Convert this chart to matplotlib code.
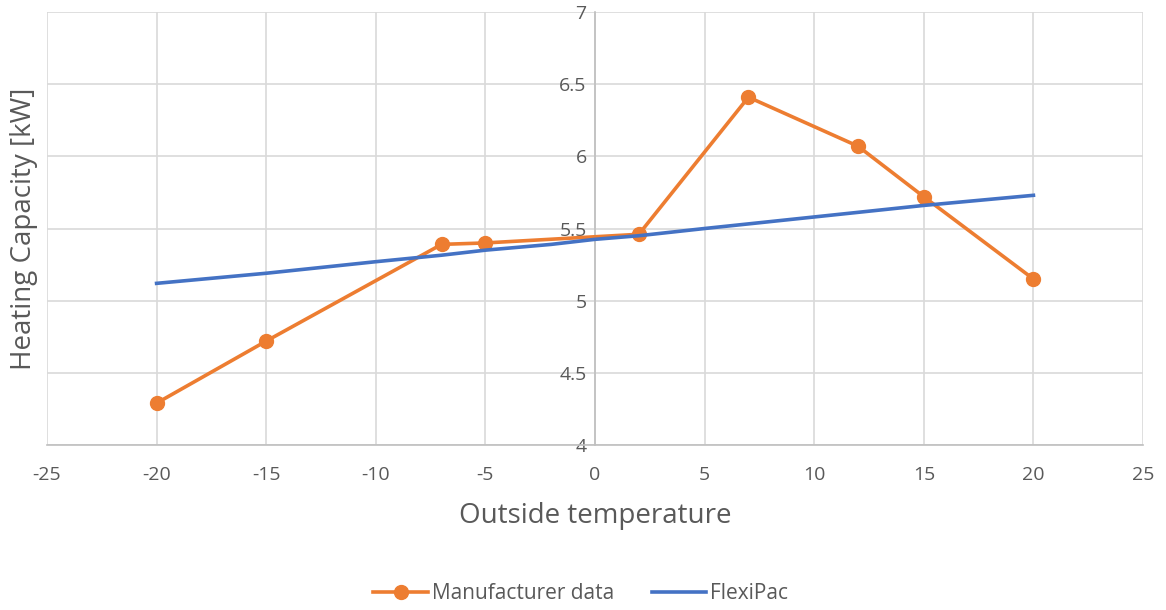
import matplotlib
matplotlib.use('Agg')
import matplotlib.pyplot as plt

# Heating capacity vs outside temperature
plt.rcParams['font.family'] = ['Open Sans', 'DejaVu Sans']
plt.rcParams['axes.unicode_minus'] = False

mfr_temp = [-20, -15, -7, -5, 2, 7, 12, 15, 20]
mfr_kw = [4.29, 4.72, 5.39, 5.40, 5.46, 6.41, 6.07, 5.72, 5.15]

flexi_temp = [-20, -15, -10, -7, -5, -2, 0, 2, 5, 10, 15, 20]
flexi_kw = [5.12, 5.19, 5.27, 5.315, 5.35, 5.39, 5.425, 5.45, 5.50, 5.58, 5.66, 5.73]

x_ticks = list(range(-25, 30, 5))
y_ticks = [4, 4.5, 5, 5.5, 6, 6.5, 7]

text_col = '#595959'
grid_col = '#d9d9d9'

fig = plt.figure(figsize=(11.66, 6.10), dpi=100)
ax = fig.add_axes([0.0403, 0.2705, 0.94, 0.7098])

ax.plot(mfr_temp, mfr_kw, color='#ED7D31', lw=2.6, marker='o', ms=10,
        label='Manufacturer data', zorder=3)
ax.plot(flexi_temp, flexi_kw, color='#4472C4', lw=2.6,
        label='FlexiPac', zorder=3)

ax.set_xlim(-25, 25)
ax.set_ylim(4, 7)
ax.set_xticks(x_ticks)
ax.set_yticks(y_ticks)
ax.set_yticklabels(['4', '4.5', '5', '5.5', '6', '6.5', '7'])
ax.grid(True, color=grid_col, lw=1.2, zorder=0)

# y axis runs through x = 0
ax.spines['left'].set_position(('data', 0))
ax.spines['left'].set_color('#bfbfbf')
ax.spines['left'].set_linewidth(1.2)
ax.spines['bottom'].set_color('#bfbfbf')
ax.spines['bottom'].set_linewidth(1.2)
ax.spines['top'].set_visible(False)
ax.spines['right'].set_visible(False)
ax.tick_params(length=0, labelsize=14, labelcolor=text_col)
ax.tick_params(axis='x', pad=15)
ax.tick_params(axis='y', pad=6)

ax.set_xlabel('Outside temperature', fontsize=20, color=text_col, labelpad=13)
fig.text(0.021, 0.625, 'Heating Capacity [kW]', rotation=90, fontsize=20,
         color=text_col, ha='center', va='center')

fig.legend(loc='center', bbox_to_anchor=(0.498, 0.027), ncol=2, frameon=False,
           fontsize=15, labelcolor=text_col, handlelength=2.6,
           columnspacing=1.8, handletextpad=0.2)

fig.savefig('out.png', dpi=100)
